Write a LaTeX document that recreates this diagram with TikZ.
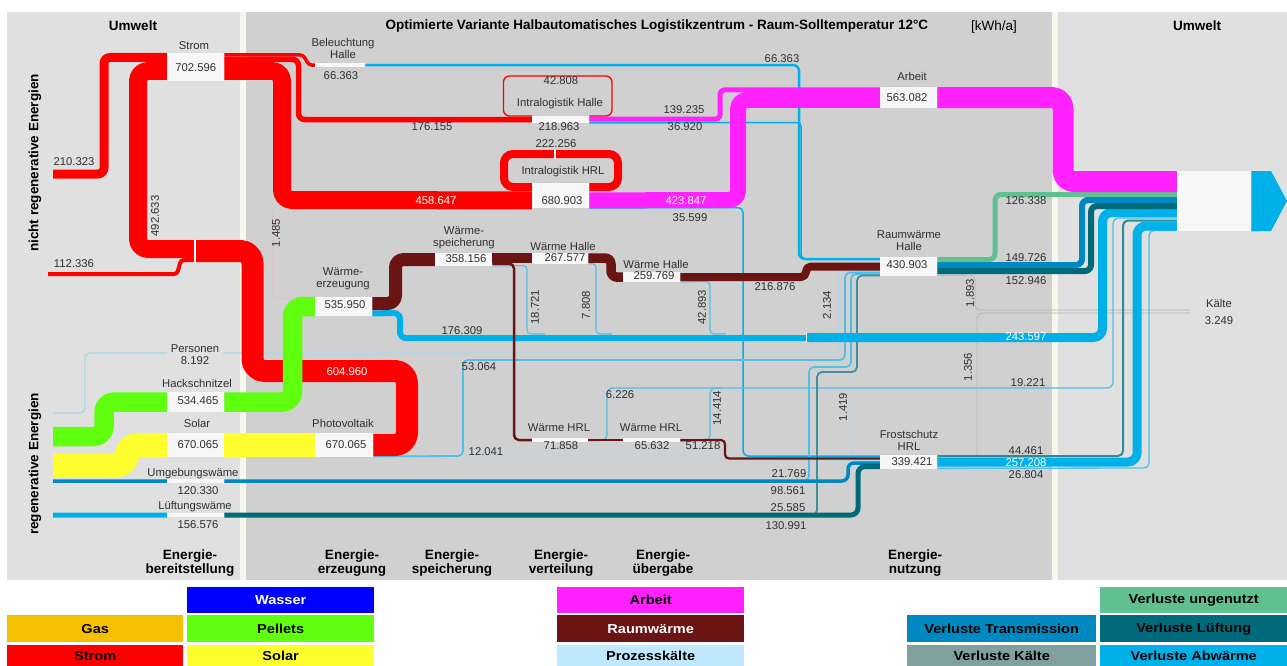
\documentclass[tikz,border=0pt]{standalone}
\usepackage{fontspec}
\setmainfont{Liberation Sans}
\newfontfamily\legfam{Liberation Sans}[FakeStretch=1.12]
\usetikzlibrary{calc}
\pgfdeclarelayer{bg}
\pgfdeclarelayer{flows}
\pgfsetlayers{bg,flows,main}

\definecolor{panelL}{HTML}{E0E0E0}
\definecolor{panelM}{HTML}{D0D0D0}
\definecolor{divid}{HTML}{F7F7EC}
\definecolor{boxw}{HTML}{F7F7F7}
\definecolor{txt}{HTML}{303030}
\definecolor{cRed}{HTML}{FF0000}
\definecolor{cMag}{HTML}{FF22FF}
\definecolor{cRaum}{HTML}{6B1414}
\definecolor{cPel}{HTML}{60FF10}
\definecolor{cSol}{HTML}{FFFF30}
\definecolor{cAbw}{HTML}{00B0E8}
\definecolor{cTra}{HTML}{0088C0}
\definecolor{cLue}{HTML}{006A7A}
\definecolor{cUng}{HTML}{60C090}
\definecolor{cKae}{HTML}{80A0A0}
\definecolor{cPK}{HTML}{C0E8FF}
\definecolor{cWas}{HTML}{0000FF}
\definecolor{cGas}{HTML}{F5C000}
\definecolor{cThin}{HTML}{50BEE6}
\definecolor{cFaint}{HTML}{A8D8EE}
\definecolor{cGrey}{HTML}{B4B4B4}
\definecolor{cPink}{HTML}{E8B8B8}

\newcommand\labfont{\fontsize{11.3}{12}\selectfont}
\newcommand\ttlfont{\fontsize{13.5}{14}\selectfont\bfseries}
\newcommand\unitfont{\fontsize{13.5}{14}\selectfont}
\newcommand\legfont{\legfam\fontsize{13}{14}\selectfont\bfseries}

\begin{document}
\begin{tikzpicture}[x=1pt,y=-1pt,
  fl/.style={line cap=butt, line join=round},
  box/.style={fill=boxw, inner sep=0, anchor=north west},
  lab/.style={inner sep=0, font=\labfont, text=txt, align=center},
  wlab/.style={lab, text=white},
  vlab/.style={lab, rotate=90},
  ttl/.style={inner sep=0, font=\ttlfont, text=black, align=center},
  leg/.style={inner sep=0, anchor=north west, font=\legfont, text=black},
]
\useasboundingbox (0,0) rectangle (1287,666);

% ---------------- process boxes
\node[box, minimum width=57pt, minimum height=28pt] (strom) at (167,53) {};
\node[box, minimum width=50pt, minimum height=4pt]  (bel)   at (315,63) {};
\node[box, minimum width=57pt, minimum height=7pt]  (ilh)   at (532,116) {};
\node[box, minimum width=57pt, minimum height=25pt] (hrl)   at (532,183) {};
\node[box, minimum width=57pt, minimum height=21pt] (arb)   at (880,87) {};
\node[box, minimum width=57pt, minimum height=19pt] (rwh)   at (880,257) {};
\node[box, minimum width=57pt, minimum height=14pt] (fsh)   at (880,455) {};
\node[box, minimum width=57pt, minimum height=19pt] (wez)   at (315,297) {};
\node[box, minimum width=57pt, minimum height=13pt] (wsp)   at (435,253) {};
\node[box, minimum width=56pt, minimum height=11pt] (wh1)   at (532,253) {};
\node[box, minimum width=57pt, minimum height=10pt] (wh2)   at (623,272) {};
\node[box, minimum width=56pt, minimum height=4pt]  (whr1)  at (532,438) {};
\node[box, minimum width=57pt, minimum height=4pt]  (whr2)  at (623,438) {};
\node[box, minimum width=57pt, minimum height=20pt] (hack)  at (167,392) {};
\node[box, minimum width=57pt, minimum height=24pt] (sol)   at (167,433) {};
\node[box, minimum width=58pt, minimum height=24pt] (pv)    at (315,433) {};
\node[box, minimum width=57pt, minimum height=4pt]  (umg)   at (167,479) {};
\node[box, minimum width=57pt, minimum height=4pt]  (lue)   at (167,513) {};
\node[box, minimum width=74pt, minimum height=60pt] (umw)   at (1177,171) {};

\begin{pgfonlayer}{bg}
  \fill[panelL] (7,12) rectangle (240,580);
  \fill[divid]  (240,12) rectangle (246,580);
  \fill[panelM] (246,12) rectangle (1052,580);
  \fill[divid]  (1052,12) rectangle (1058,580);
  \fill[panelL] (1058,12) rectangle (1287,580);
\end{pgfonlayer}

\begin{pgfonlayer}{flows}
  % faint lines: Personen, Kaelte, small remainders
  \draw[fl, cFaint, line width=1.2, rounded corners=5] (53,413) -- (85,413) -- (85,353) -- (838,353) -- (838,271) -- ($(rwh.north west)+(0,14)$);
  \draw[fl, cGrey, line width=0.8, rounded corners=5] ($(rwh.south east)+(0,-1)$) -- (975,275) -- (975,310) -- (1190,310);
  \draw[fl, cGrey, line width=0.8, rounded corners=5] (977,456) -- (977,313) -- (1190,313);
  \draw[fl, cFaint, line width=0.9, rounded corners=4] (851,388) -- (851,452) -- (856,456);
  \draw[fl, cFaint, line width=1, rounded corners=4] (463,459) -- (725,459) -- ($(fsh.north west)+(0,5.5)$);
  \draw[fl, cPink, line width=0.8, rounded corners=4] (273,209) -- (273,298) -- ($(wez.north west)+(0,1)$);

  % thin heat-loss lines
  \draw[fl, cAbw, line width=2.5, rounded corners=6] (bel.east) -- (799,65) -- (799,259) -- ($(rwh.north west)+(0,2)$);
  \draw[fl, cAbw, line width=1.5, rounded corners=4] ($(ilh.south east)+(0,-0.5)$) -- (801,122.5) -- (801,259) -- ($(rwh.north west)+(0,2)$);
  \draw[fl, cAbw, line width=1.5, rounded corners=5] ($(hrl.south east)+(0,-0.5)$) -- (743,207.5) -- (743,456) -- ($(fsh.north west)+(0,1)$);
  \draw[fl, cThin, line width=1.8, rounded corners=5] ($(pv.south east)+(0,-1)$) -- (463,456) -- (463,360) -- (845,360) -- (845,272.5) -- ($(rwh.north west)+(0,15.5)$);
  \draw[fl, cThin, line width=1.1, rounded corners=4] ($(wsp.south east)+(0,-0.5)$) -- (527,265.5) -- (527,334) -- (545,334);
  \draw[fl, cThin, line width=1.1, rounded corners=4] ($(wh1.south east)+(0,-0.5)$) -- (596,263.5) -- (596,334) -- (612,334);
  \draw[fl, cThin, line width=1.1, rounded corners=4] ($(wh2.south east)+(0,-0.5)$) -- (710,281.5) -- (710,334) -- (726,334);
  \draw[fl, cThin, line width=1.3, rounded corners=6] ($(whr1.east)+(0,0.5)$) -- (607,440.5) -- (607,388) -- (1113,388) -- (1113,218) -- ($(umw.north west)+(0,47)$);
  \draw[fl, cThin, line width=1.1, rounded corners=5] ($(whr2.east)+(0,0.5)$) -- (710,440.5) -- (710,388) -- (722,388);
  \draw[fl, cThin, line width=1.6, rounded corners=5] (795,481) -- (809,481) -- (809,367) -- (851,367) -- (851,274) -- ($(rwh.north west)+(0,17)$);
  \draw[fl, cLue!75, line width=1.8, rounded corners=5] (803,515) -- (817,515) -- (817,372) -- (857,372) -- (857,275.5) -- ($(rwh.north west)+(0,18.5)$);
  \draw[fl, cLue!80, line width=2, rounded corners=5] ($(fsh.north east)+(0,1)$) -- (1123,456) -- (1123,220.5) -- ($(umw.north west)+(0,49.5)$);
  \draw[fl, cThin, line width=1.3, rounded corners=5] ($(fsh.south east)+(0,-1)$) -- (1149,468) -- (1149,230.5) -- ($(umw.north west)+(0,59.5)$);

  % ambient heat and ventilation heat
  \draw[fl, cTra, line width=3.5] (53,481) -- (umg.west);
  \draw[fl, cTra, line width=3.5, rounded corners=6] (umg.east) -- (848,481) -- (848,463) -- ($(fsh.north west)+(0,8)$);
  \draw[fl, cAbw, line width=5] (53,515) -- (lue.west);
  \draw[fl, cLue, line width=5, rounded corners=7] (lue.east) -- (858,515) -- (858,466.5) -- ($(fsh.north west)+(0,11.5)$);

  % waste heat bands
  \draw[fl, cAbw, line width=6, rounded corners=6] ($(wez.south east)+(0,-3)$) -- (400,313) -- (400,338) -- (806,338);
  \coordinate (jb) at (806,337.5);
  \draw[fl, cAbw, line width=9, rounded corners=9] (jb) -- (1102.5,337.5) -- (1102.5,212.5) -- ($(umw.north west)+(0,41.5)$);
  \draw[white, line width=1] (806,332.5) -- (806,342.5);
  \draw[fl, cAbw, line width=9, rounded corners=9] (fsh.east) -- (1137,462) -- (1137,226) -- ($(umw.north west)+(0,55)$);

  % losses of the hall
  \draw[fl, cTra, line width=6, rounded corners=6] ($(rwh.north east)+(0,8)$) -- (1082,265) -- (1082,200) -- ($(umw.north west)+(0,29)$);
  \draw[fl, cLue, line width=6, rounded corners=6] ($(rwh.north east)+(0,14)$) -- (1091,271) -- (1091,206) -- ($(umw.north west)+(0,35)$);
  \draw[fl, cUng, line width=5, rounded corners=6] ($(rwh.north east)+(0,2.5)$) -- (995,259.5) -- (995,194.5) -- ($(umw.north west)+(0,23.5)$);

  % electricity
  \draw[fl, cRed, line width=9, rounded corners=6] (53,174) -- (104,174) -- (104,57.5) -- ($(strom.north west)+(0,4.5)$);
  \draw[fl, cRed, line width=18, rounded corners=10] ($(strom.north west)+(0,18)$) -- (138,71) -- (138,249) -- (194.4,249);
  \draw[fl, cRed, line width=4, rounded corners=3] (48,274) -- (177,274) -- (181,260) -- (194.4,260);
  \coordinate (jr) at (195.6,251);
  \draw[fl, cRed, line width=22, rounded corners=12] (jr) -- (252.5,251) -- (252.5,371) -- (407,371) -- (407,445) -- (pv.east);
  \draw[white, line width=1.2] (195,239.5) -- (195,262.5);
  \draw[fl, cRed, line width=3.5, rounded corners=3] ($(strom.north east)+(0,2)$) -- (303,55) -- (309,65) -- (bel.west);
  \draw[fl, cRed, line width=5.5, rounded corners=6] ($(strom.north east)+(0,6.5)$) -- (298.5,59.5) -- (298.5,119.5) -- (ilh.west);
  \draw[fl, cRed, line width=18, rounded corners=10] ($(strom.north east)+(0,18)$) -- (282,71) -- (282,200) -- ($(hrl.south west)+(0,-8)$);
  % internal loops of the intralogistics
  \draw[cRed, line width=1.3, rounded corners=6] (ilh.north west) -- (503.5,116) -- (503.5,76) -- (612,76) -- (612,116) -- (ilh.north east);
  \draw[cRed, line width=8, rounded corners=9] ($(hrl.north west)+(0,4)$) -- (504,187) -- (504,154) -- (618,154) -- (618,187) -- ($(hrl.north east)+(0,4)$);
  \draw[white, line width=1.2] (555,149.5) -- (555,158.5);

  % work
  \draw[fl, cMag, line width=5, rounded corners=4] ($(ilh.east)+(0,-0.5)$) -- (720,119) -- (720,90) -- ($(arb.north west)+(0,3)$);
  \draw[fl, cMag, line width=16, rounded corners=9] ($(hrl.south east)+(0,-8)$) -- (738,200) -- (738,100) -- ($(arb.north west)+(0,13)$);
  \draw[fl, cMag, line width=21, rounded corners=11] (arb.east) -- (1063,97.5) -- (1063,181.5) -- ($(umw.north west)+(0,10.5)$);

  % wood chips and solar
  \draw[fl, cPel, line width=19.5, rounded corners=10] (53,436.5) -- (104,436.5) -- (104,402) -- (hack.west);
  \draw[fl, cPel, line width=19.5, rounded corners=10] (hack.east) -- (292.5,402) -- (292.5,306.5) -- (wez.west);
  \draw[fl, cSol, line width=24, rounded corners=10] (53,465) -- (127,465) -- (127,445) -- (sol.west);
  \draw[fl, cSol, line width=24] (sol.east) -- (pv.west);

  % space heat
  \draw[fl, cRaum, line width=13, rounded corners=8] ($(wez.north east)+(0,6.5)$) -- (395.5,303.5) -- (395.5,259.5) -- (wsp.west);
  \draw[fl, cRaum, line width=10] ($(wsp.north east)+(0,5)$) -- ($(wh1.north west)+(0,5)$);
  \draw[fl, cRaum, line width=2.5, rounded corners=5] ($(wsp.south east)+(0,-2.5)$) -- (514,263.5) -- (514,440) -- (whr1.west);
  \draw[fl, cRaum, line width=9.5, rounded corners=6] ($(wh1.north east)+(0,5)$) -- (611,258) -- (611,277) -- (wh2.west);
  \draw[fl, cRaum, line width=8, rounded corners=5] (wh2.east) -- (806,277) -- (806,266.5) -- ($(rwh.north west)+(0,9.5)$);
  \draw[fl, cRaum, line width=2.5] (whr1.east) -- (whr2.west);
  \draw[fl, cRaum, line width=2.2, rounded corners=4] (whr2.east) -- (725,440) -- (725,458.5) -- ($(fsh.north west)+(0,3.5)$);

  % output to the environment
  \fill[cAbw] (umw.north east) -- (1271,171) -- (1287,201) -- (1271,231) -- (umw.south east) -- cycle;
\end{pgfonlayer}

% ---------------- titles
\node[ttl] (tUmwL) at (133,26) {Umwelt};
\node[ttl] (tMain) at (657,26) {Optimierte Variante Halbautomatisches Logistikzentrum - Raum-Solltemperatur 12°C};
\node[inner sep=0, font=\unitfont] (tUnit) at (994,27) {[kWh/a]};
\node[ttl] (tUmwR) at (1197,26) {Umwelt};
\node[ttl, rotate=90] (tNreg) at (35,163) {nicht regenerative Energien};
\node[ttl, rotate=90] (tReg) at (35,464) {regenerative Energien};
\node[ttl] (bBer) at (190,563) {Energie-\\bereitstellung};
\node[ttl] (bErz) at (352,563) {Energie-\\erzeugung};
\node[ttl] (bSpe) at (452,563) {Energie-\\speicherung};
\node[ttl] (bVer) at (561,563) {Energie-\\verteilung};
\node[ttl] (bUeb) at (663,563) {Energie-\\übergabe};
\node[ttl] (bNut) at (915,563) {Energie-\\nutzung};

% ---------------- node labels and values
\node[lab] (lStrom) at (194,46) {Strom};
\node[lab] (vStrom) at (strom.center) {702.596};
\node[lab] (v210) at (74,162) {210.323};
\node[lab] (v112) at (74,264) {112.336};
\node[vlab] (v492) at (155,216) {492.633};
\node[lab] (lBel) at (343,48) {Beleuchtung\\Halle};
\node[lab] (vBel) at (341,76) {66.363};
\node[lab] (vBel2) at (782,59) {66.363};
\node[lab] (v42808) at (561,81) {42.808};
\node[lab] (lIlh) at (560,104) {Intralogistik Halle};
\node[lab] (vIlh) at (559,127) {218.963};
\node[lab] (v176155) at (432,127) {176.155};
\node[lab] (v139) at (684,110) {139.235};
\node[lab] (v36920) at (685,127) {36.920};
\node[lab] (v222) at (556,144) {222.256};
\node[lab] (lHrl) at (563,172) {Intralogistik HRL};
\node[lab] (vHrl) at (562,201) {680.903};
\node[wlab] (v458) at (436,201) {458.647};
\node[wlab] (v423) at (686,201) {423.847};
\node[lab] (v35599) at (690,218) {35.599};
\node[vlab] (v1485) at (276,233) {1.485};
\node[lab] (lArb) at (912,76) {Arbeit};
\node[lab] (vArb) at (907,98) {563.082};
\node[lab] (lWez) at (343,279) {Wärme-\\erzeugung};
\node[lab] (vWez) at (345,305) {535.950};
\node[lab] (lWsp) at (464,238) {Wärme-\\speicherung};
\node[lab] (vWsp) at (466,259) {358.156};
\node[lab] (lWh1) at (563,246) {Wärme Halle};
\node[lab] (vWh1) at (565,258) {267.577};
\node[lab] (lWh2) at (656,264) {Wärme Halle};
\node[lab] (vWh2) at (654,276) {259.769};
\node[lab] (v216) at (775,287) {216.876};
\node[lab] (lRwh) at (909,241) {Raumwärme\\Halle};
\node[lab] (vRwh) at (907,265) {430.903};
\node[lab] (v126) at (1026,201) {126.338};
\node[lab] (v149) at (1026,258) {149.726};
\node[lab] (v152) at (1026,281) {152.946};
\node[lab] (lKae) at (1219,303) {Kälte};
\node[lab] (vKae) at (1219,321) {3.249};
\node[lab] (v176309) at (462,331) {176.309};
\node[wlab] (v243) at (1026,337) {243.597};
\node[vlab] (v18721) at (535,307) {18.721};
\node[vlab] (v7808) at (586,305) {7.808};
\node[vlab] (v42893) at (702,307) {42.893};
\node[vlab] (v2134) at (827,305) {2.134};
\node[vlab] (v1893) at (970,293) {1.893};
\node[vlab] (v1356) at (968,367) {1.356};
\node[vlab] (v14414) at (717,408) {14.414};
\node[vlab] (v1419) at (843,407) {1.419};
\node[lab, fill=panelL, minimum width=56pt, inner sep=1pt] (lPers) at (195,355) {Personen\\8.192};
\node[lab] (v53064) at (479,367) {53.064};
\node[wlab] (v604) at (347,372) {604.960};
\node[lab] (lHack) at (197,383) {Hackschnitzel};
\node[lab] (vHack) at (198,401) {534.465};
\node[lab] (lSol) at (197,423) {Solar};
\node[lab] (vSol) at (198,445) {670.065};
\node[lab] (lPv) at (343,423) {Photovoltaik};
\node[lab] (vPv) at (346,445) {670.065};
\node[lab] (lUmg) at (193,474) {Umgebungswäme};
\node[lab] (vUmg) at (198,491) {120.330};
\node[lab] (lLue) at (195,507) {Lüftungswäme};
\node[lab] (vLue) at (198,525) {156.576};
\node[lab] (v6226) at (620,395) {6.226};
\node[lab] (lWhr1) at (559,428) {Wärme HRL};
\node[lab] (vWhr1) at (561,446) {71.858};
\node[lab] (lWhr2) at (651,428) {Wärme HRL};
\node[lab] (vWhr2) at (652,446) {65.632};
\node[lab] (v51218) at (703,446) {51.218};
\node[lab] (v12041) at (486,452) {12.041};
\node[lab] (lFsh) at (909,440) {Frostschutz\\HRL};
\node[lab] (vFsh) at (912,462) {339.421};
\node[lab] (v19221) at (1028,383) {19.221};
\node[lab] (v44461) at (1026,451) {44.461};
\node[wlab] (v257) at (1026,463) {257.208};
\node[lab] (v26804) at (1026,475) {26.804};
\node[lab] (v21769) at (789,474) {21.769};
\node[lab] (v98561) at (788,491) {98.561};
\node[lab] (v25585) at (788,508) {25.585};
\node[lab] (v130991) at (786,526) {130.991};

% ---------------- legend
\node[leg, fill=cWas, text=white, minimum width=187pt, minimum height=26pt] (lgWas) at (187,587) {Wasser};
\node[leg, fill=cMag, minimum width=187pt, minimum height=26pt] (lgArb) at (557,587) {Arbeit};
\node[leg, fill=cUng, minimum width=187pt, minimum height=26pt] (lgUng) at (1100,587) {Verluste ungenutzt};
\node[leg, fill=cGas, minimum width=176pt, minimum height=27pt] (lgGas) at (7,615) {Gas};
\node[leg, fill=cPel, minimum width=187pt, minimum height=27pt] (lgPel) at (187,615) {Pellets};
\node[leg, fill=cRaum, text=white, minimum width=187pt, minimum height=27pt] (lgRaum) at (557,615) {Raumwärme};
\node[leg, fill=cTra, minimum width=189pt, minimum height=27pt] (lgTra) at (907,615) {Verluste Transmission};
\node[leg, fill=cLue, minimum width=187pt, minimum height=27pt] (lgLue) at (1100,615) {Verluste Lüftung};
\node[leg, fill=cRed, minimum width=176pt, minimum height=21pt] (lgStr) at (7,645) {Strom};
\node[leg, fill=cSol, minimum width=187pt, minimum height=21pt] (lgSol) at (187,645) {Solar};
\node[leg, fill=cPK, minimum width=187pt, minimum height=21pt] (lgPK) at (557,645) {Prozesskälte};
\node[leg, fill=cKae, minimum width=189pt, minimum height=21pt] (lgKae) at (907,645) {Verluste Kälte};
\node[leg, fill=cAbw, minimum width=187pt, minimum height=21pt] (lgAbw) at (1100,645) {Verluste Abwärme};
\end{tikzpicture}
\end{document}
